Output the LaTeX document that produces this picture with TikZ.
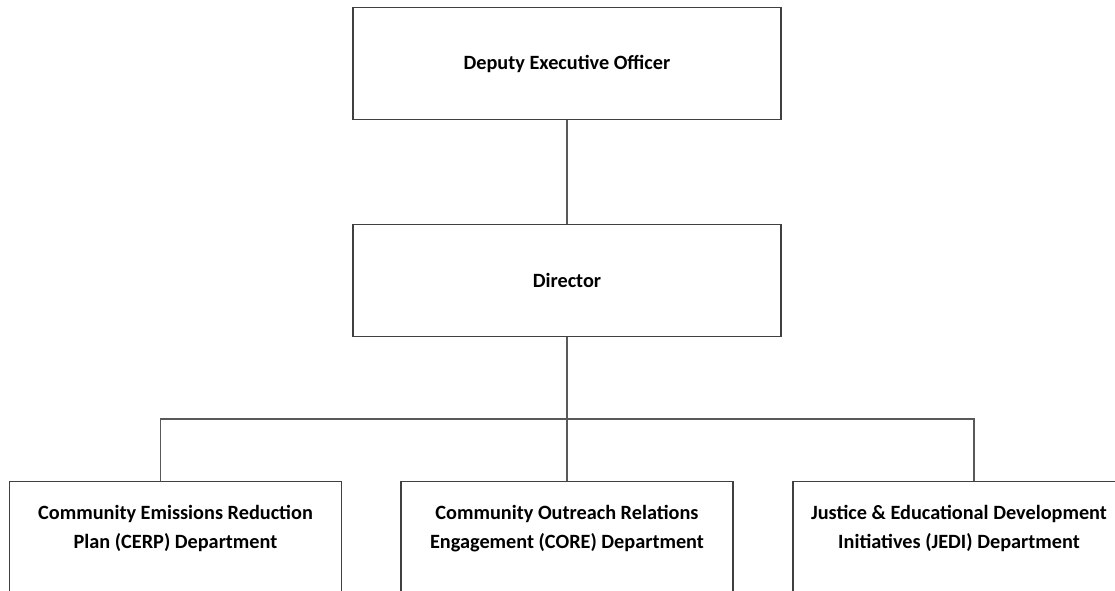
\documentclass[tikz,border=0pt]{standalone}
\usepackage{fontspec}
\setmainfont{Carlito}
\usepackage{tikz}
\usetikzlibrary{positioning}
\tikzset{
    font={\fontsize{15.2pt}{21.75pt}\selectfont\bfseries},
    post/.style={
           rectangle,
           draw=black!75, line width=0.9pt,
           minimum width=321pt,
           minimum height=84pt,
           inner sep=2pt,
           align=center,
           },
    dept/.style={
           rectangle,
           draw=black!75, line width=0.9pt,
           minimum width=249pt,
           inner xsep=2pt, inner ysep=18pt,
           text depth=120pt,
           anchor=north,
           align=center,
           },
    link/.style={draw=black!65, line width=0.8pt},
}
\begin{document}
\begin{tikzpicture}[x=0.75pt,y=-0.75pt]
\useasboundingbox (0,0) rectangle (1115,591);
\clip (0,0) rectangle (1115,591);

\node[post] (DEO) at (567,63.5) {Deputy Executive Officer};

\node[post] (DIRECTOR) at (567,280.5) {Director};

 % departments
\node[dept] (CERP) at (175.5,481) {Community Emissions Reduction\\Plan (CERP) Department};
\node[dept] (CORE) at (567,481) {Community Outreach Relations\\Engagement (CORE) Department};
\node[dept] (JEDI) at (959,481) {Justice \& Educational Development\\Initiatives (JEDI) Department};

\coordinate (BUS) at (567,419);

\path (DEO)      edge[link]  (DIRECTOR)
      (DIRECTOR) edge[link]  (CORE);
\draw[link] ([xshift=-11.6pt]CERP.north) |- (BUS) -| ([xshift=11.25pt]JEDI.north);

\end{tikzpicture}
\end{document}
